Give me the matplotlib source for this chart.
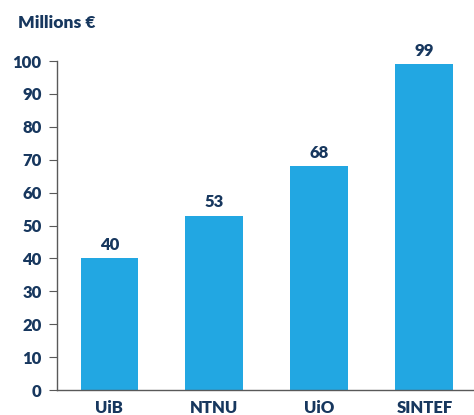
import matplotlib
matplotlib.use("Agg")
import matplotlib.pyplot as plt

plt.rcParams['font.family'] = ['Lato', 'DejaVu Sans']

institutions = ["UiB", "NTNU", "UiO", "SINTEF"]
funding = [40, 53, 68, 99]

navy = "#17375E"
bar_blue = "#22A7E2"

fig = plt.figure(figsize=(4.74, 4.15), dpi=100)
ax = fig.add_axes([0.120, 0.060, 0.886, 0.793])

x = range(len(institutions))
bars = ax.bar(x, funding, width=0.55, color=bar_blue)
for xi, v in zip(x, funding):
    ax.annotate(str(v), (xi, v), xytext=(0, 4), textcoords="offset points",
                ha="center", va="bottom", fontsize=12, fontweight="heavy", color=navy)

ax.set_xlim(-0.5, 3.5)
ax.set_ylim(0, 100)
ax.set_yticks(range(0, 101, 10))
ax.set_xticks(list(x))
ax.set_xticklabels(institutions)

for s in ["top", "right"]:
    ax.spines[s].set_visible(False)
for s in ["left", "bottom"]:
    ax.spines[s].set_color("#595959")
    ax.spines[s].set_linewidth(1.0)

ax.tick_params(axis="y", length=6, color="#595959", labelsize=12, labelcolor=navy, pad=5)
ax.tick_params(axis="x", length=0, labelsize=12, labelcolor=navy, pad=7)
for lbl in ax.get_xticklabels() + ax.get_yticklabels():
    lbl.set_fontweight("heavy")

fig.text(0.038, 0.945, "Millions €", fontsize=12.5, fontweight="heavy", color=navy,
         ha="left", va="center")

fig.savefig("out.png", dpi=100)
